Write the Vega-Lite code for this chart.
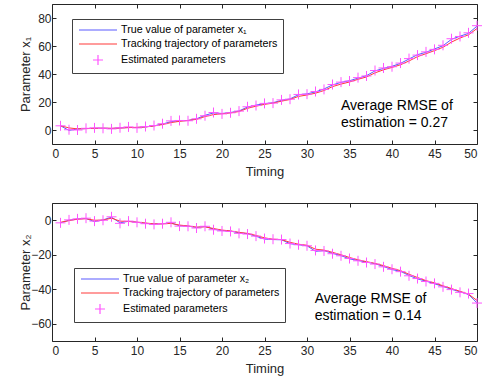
{
  "$schema": "https://vega.github.io/schema/vega-lite/v6.json",
  "padding": {"left": 18, "top": 3, "right": 5, "bottom": 5},
  "spacing": 23,
  "config": {
    "font": "Liberation Sans",
    "view": {"stroke": "#262626", "strokeWidth": 1},
    "axis": {
      "grid": false,
      "labelFont": "Liberation Sans",
      "titleFont": "Liberation Sans",
      "labelFontSize": 12,
      "titleFontSize": 13,
      "titleFontWeight": "normal",
      "labelColor": "#262626",
      "titleColor": "#262626",
      "domain": false,
      "tickColor": "#262626",
      "tickSize": 4,
      "offset": -4,
      "labelPadding": 4
    },
    "axisX": {"labelPadding": 4, "titlePadding": 6},
    "axisY": {"labelPadding": 1}
  },
  "datasets": {
    "top": [
      {"t":1,"true":3,"track":3,"est":3},
      {"t":2,"true":-0.3,"track":1.5,"est":0.2},
      {"t":3,"true":0.7,"track":0.8,"est":0},
      {"t":4,"true":1,"track":1,"est":1.2},
      {"t":5,"true":1.2,"track":1.2,"est":1.5},
      {"t":6,"true":1.3,"track":1.3,"est":1.2},
      {"t":7,"true":1.1,"track":1.2,"est":0.8},
      {"t":8,"true":1.5,"track":1.4,"est":1.6},
      {"t":9,"true":1.8,"track":1.7,"est":2.2},
      {"t":10,"true":1.8,"track":1.9,"est":1.5},
      {"t":11,"true":2.2,"track":2.2,"est":2.5},
      {"t":12,"true":3,"track":2.9,"est":3.2},
      {"t":13,"true":4.2,"track":3.9,"est":4.5},
      {"t":14,"true":6,"track":5.3,"est":6.5},
      {"t":15,"true":6.6,"track":6.2,"est":6.8},
      {"t":16,"true":6.8,"track":6.8,"est":6.6},
      {"t":17,"true":8,"track":7.6,"est":8},
      {"t":18,"true":10.5,"track":9.6,"est":10.2},
      {"t":19,"true":12.2,"track":11,"est":12.5},
      {"t":20,"true":11.8,"track":11.6,"est":11.5},
      {"t":21,"true":12.5,"track":12.2,"est":12.3},
      {"t":22,"true":13.6,"track":13.2,"est":13.5},
      {"t":23,"true":16.4,"track":15.5,"est":16.6},
      {"t":24,"true":17.8,"track":17,"est":17.5},
      {"t":25,"true":18.8,"track":18.3,"est":19},
      {"t":26,"true":19.5,"track":19.2,"est":19.2},
      {"t":27,"true":21.2,"track":20.6,"est":21.5},
      {"t":28,"true":22.2,"track":21.8,"est":22},
      {"t":29,"true":25.2,"track":24,"est":25.4},
      {"t":30,"true":25.8,"track":25,"est":25.6},
      {"t":31,"true":27.2,"track":26.3,"est":27.5},
      {"t":32,"true":29.3,"track":28.2,"est":29},
      {"t":33,"true":32.2,"track":31,"est":32.5},
      {"t":34,"true":34,"track":32.8,"est":34.2},
      {"t":35,"true":35.2,"track":34.3,"est":35},
      {"t":36,"true":37,"track":36.2,"est":37.4},
      {"t":37,"true":38.8,"track":37.9,"est":38.6},
      {"t":38,"true":42.2,"track":40.8,"est":42.5},
      {"t":39,"true":44,"track":43,"est":44.3},
      {"t":40,"true":45.5,"track":44.7,"est":45.2},
      {"t":41,"true":47.6,"track":46.6,"est":47.8},
      {"t":42,"true":50.7,"track":49.3,"est":51},
      {"t":43,"true":53.8,"track":52.4,"est":53.5},
      {"t":44,"true":55.5,"track":54.5,"est":55.8},
      {"t":45,"true":57.9,"track":56.7,"est":57.6},
      {"t":46,"true":60.2,"track":59.1,"est":60.5},
      {"t":47,"true":64.8,"track":62.8,"est":65.2},
      {"t":48,"true":67,"track":65.7,"est":66.8},
      {"t":49,"true":69,"track":68,"est":69.4},
      {"t":50,"true":74.2,"track":72.5,"est":74.5}
    ],
    "bottom": [
      {"t":1,"true":-1.5,"track":-1.2,"est":-1.5},
      {"t":2,"true":0,"track":-0.2,"est":0.2},
      {"t":3,"true":0.8,"track":0.6,"est":0.8},
      {"t":4,"true":1,"track":0.9,"est":1.2},
      {"t":5,"true":-0.8,"track":0,"est":-0.5},
      {"t":6,"true":0.2,"track":0.1,"est":0},
      {"t":7,"true":1.8,"track":1.2,"est":2},
      {"t":8,"true":-1.5,"track":-0.5,"est":-1.8},
      {"t":9,"true":-0.6,"track":-0.7,"est":-0.5},
      {"t":10,"true":-1.2,"track":-1.1,"est":-1.2},
      {"t":11,"true":-1.8,"track":-1.6,"est":-2},
      {"t":12,"true":-2.2,"track":-2.1,"est":-2.4},
      {"t":13,"true":-2,"track":-2.1,"est":-2},
      {"t":14,"true":-1.5,"track":-1.8,"est":-1.2},
      {"t":15,"true":-3.2,"track":-2.8,"est":-3.4},
      {"t":16,"true":-3.4,"track":-3.3,"est":-3.5},
      {"t":17,"true":-4.2,"track":-4,"est":-4.5},
      {"t":18,"true":-3.6,"track":-3.8,"est":-3.5},
      {"t":19,"true":-5.2,"track":-4.8,"est":-5.5},
      {"t":20,"true":-6,"track":-5.7,"est":-6.2},
      {"t":21,"true":-6.3,"track":-6.2,"est":-6.5},
      {"t":22,"true":-7.3,"track":-7,"est":-7.6},
      {"t":23,"true":-7.8,"track":-7.6,"est":-8},
      {"t":24,"true":-9.3,"track":-8.8,"est":-9.2},
      {"t":25,"true":-10.9,"track":-10.2,"est":-10.6},
      {"t":26,"true":-11.2,"track":-11,"est":-11},
      {"t":27,"true":-11.3,"track":-11.2,"est":-11.2},
      {"t":28,"true":-13.6,"track":-12.8,"est":-13.5},
      {"t":29,"true":-14.2,"track":-13.9,"est":-14.2},
      {"t":30,"true":-14.8,"track":-14.5,"est":-14.8},
      {"t":31,"true":-18,"track":-16.8,"est":-17.5},
      {"t":32,"true":-17.6,"track":-17.3,"est":-17.8},
      {"t":33,"true":-19.2,"track":-18.6,"est":-19.4},
      {"t":34,"true":-20.5,"track":-20,"est":-20.6},
      {"t":35,"true":-22.4,"track":-21.6,"est":-22.2},
      {"t":36,"true":-23.3,"track":-22.9,"est":-23.5},
      {"t":37,"true":-24.3,"track":-24,"est":-24.5},
      {"t":38,"true":-25.2,"track":-25,"est":-25.4},
      {"t":39,"true":-26.8,"track":-26.3,"est":-27},
      {"t":40,"true":-28.6,"track":-27.9,"est":-28.4},
      {"t":41,"true":-29.6,"track":-29.2,"est":-29.8},
      {"t":42,"true":-32,"track":-31.3,"est":-32.2},
      {"t":43,"true":-34,"track":-33.2,"est":-33.8},
      {"t":44,"true":-35.3,"track":-35,"est":-35.5},
      {"t":45,"true":-36.8,"track":-36.3,"est":-36.6},
      {"t":46,"true":-38.4,"track":-38,"est":-38.6},
      {"t":47,"true":-40,"track":-39.6,"est":-40.2},
      {"t":48,"true":-41.5,"track":-41.2,"est":-41.8},
      {"t":49,"true":-43,"track":-42.8,"est":-42.5},
      {"t":50,"true":-47.9,"track":-46.5,"est":-48}
    ]
  },
  "vconcat": [
    {
      "width": 425,
      "height": 140,
      "resolve": {"axis": {"x": "independent", "y": "independent"}},
      "layer": [
        {
          "data": {"name": "top"},
          "transform": [{"fold": ["true", "track"], "as": ["k", "v"]}],
          "mark": {"type": "line", "strokeWidth": 1},
          "encoding": {
            "x": {"field": "t", "type": "quantitative", "scale": {"domain": [0, 50], "nice": false},
                  "axis": {"orient": "bottom", "values": [0,5,10,15,20,25,30,35,40,45,50], "title": "Timing"}},
            "y": {"field": "v", "type": "quantitative", "scale": {"domain": [-10, 90], "nice": false},
                  "axis": {"orient": "left", "values": [0,20,40,60,80], "title": "Parameter x₁", "minExtent": 22, "maxExtent": 22, "titlePadding": 2}},
            "color": {"field": "k", "type": "nominal",
              "scale": {"domain": ["true", "track", "est"], "range": ["#5a5aff", "#ff3a3a", "#ff55ff"]},
              "legend": {
                "orient": "none", "legendX": 20, "legendY": 15, "title": null,
                "labelExpr": "datum.value == 'true' ? 'True value of parameter x₁' : datum.value == 'track' ? 'Tracking trajectory of parameters' : 'Estimated parameters'",
                "labelFont": "Liberation Sans", "labelFontSize": 10.7, "labelColor": "#000000",
                "symbolSize": 100, "symbolOffset": 15, "labelOffset": 17, "rowPadding": 3, "padding": 5,
                "strokeColor": "#404040", "fillColor": "#ffffff", "symbolStrokeWidth": 1,
                "encode": {"symbols": {"update": {
                  "shape": {"signal": "datum.value == 'est' ? 'M-1,0L1,0M0,-1L0,1' : 'M-3.8,0L3.8,0'"},
                  "stroke": {"signal": "datum.value == 'true' ? '#5a5aff' : datum.value == 'track' ? '#ff3a3a' : '#ff55ff'"},
                  "fill": {"value": "transparent"},
                  "strokeWidth": {"value": 1.2},
                  "strokeOpacity": {"value": 1},
                  "opacity": {"value": 1}
                }}}
              }
            }
          }
        },
        {
          "data": {"name": "top"},
          "transform": [{"fold": ["est"], "as": ["k", "v"]}],
          "mark": {"type": "point", "shape": "M-1,0L1,0M0,-1L0,1", "filled": false, "size": 100, "strokeWidth": 1, "opacity": 1},
          "encoding": {
            "x": {"field": "t", "type": "quantitative", "axis": {"orient": "top", "values": [0,5,10,15,20,25,30,35,40,45,50], "labels": false, "title": null, "ticks": true}},
            "y": {"field": "v", "type": "quantitative", "axis": {"orient": "right", "values": [0,20,40,60,80], "labels": false, "title": null, "ticks": true}},
            "color": {"field": "k", "type": "nominal"}
          }
        },
        {
          "data": {"values": [{"note": "Average RMSE of\nestimation = 0.27"}]},
          "mark": {"type": "text", "align": "left", "baseline": "top", "fontSize": 14, "lineHeight": 16.5, "lineBreak": "\n", "color": "#000000"},
          "encoding": {
            "x": {"datum": 34, "type": "quantitative", "axis": null},
            "y": {"datum": 22, "type": "quantitative", "axis": null},
            "text": {"field": "note"}
          }
        }
      ]
    },
    {
      "width": 425,
      "height": 138,
      "resolve": {"axis": {"x": "independent", "y": "independent"}},
      "layer": [
        {
          "data": {"name": "bottom"},
          "transform": [{"fold": ["true", "track"], "as": ["k", "v"]}],
          "mark": {"type": "line", "strokeWidth": 1},
          "encoding": {
            "x": {"field": "t", "type": "quantitative", "scale": {"domain": [0, 50], "nice": false},
                  "axis": {"orient": "bottom", "values": [0,5,10,15,20,25,30,35,40,45,50], "title": "Timing"}},
            "y": {"field": "v", "type": "quantitative", "scale": {"domain": [-70, 10], "nice": false},
                  "axis": {"orient": "left", "values": [0,-20,-40,-60], "title": "Parameter x₂", "minExtent": 22, "maxExtent": 22, "titlePadding": 2}},
            "color": {"field": "k", "type": "nominal",
              "scale": {"domain": ["true", "track", "est"], "range": ["#5a5aff", "#ff3a3a", "#ff55ff"]},
              "legend": {
                "orient": "none", "legendX": 22, "legendY": 65, "title": null,
                "labelExpr": "datum.value == 'true' ? 'True value of parameter x₂' : datum.value == 'track' ? 'Tracking trajectory of parameters' : 'Estimated parameters'",
                "labelFont": "Liberation Sans", "labelFontSize": 10.7, "labelColor": "#000000",
                "symbolSize": 100, "symbolOffset": 15, "labelOffset": 17, "rowPadding": 3, "padding": 5,
                "strokeColor": "#404040", "fillColor": "#ffffff", "symbolStrokeWidth": 1,
                "encode": {"symbols": {"update": {
                  "shape": {"signal": "datum.value == 'est' ? 'M-1,0L1,0M0,-1L0,1' : 'M-3.8,0L3.8,0'"},
                  "stroke": {"signal": "datum.value == 'true' ? '#5a5aff' : datum.value == 'track' ? '#ff3a3a' : '#ff55ff'"},
                  "fill": {"value": "transparent"},
                  "strokeWidth": {"value": 1.2},
                  "strokeOpacity": {"value": 1},
                  "opacity": {"value": 1}
                }}}
              }
            }
          }
        },
        {
          "data": {"name": "bottom"},
          "transform": [{"fold": ["est"], "as": ["k", "v"]}],
          "mark": {"type": "point", "shape": "M-1,0L1,0M0,-1L0,1", "filled": false, "size": 100, "strokeWidth": 1, "opacity": 1},
          "encoding": {
            "x": {"field": "t", "type": "quantitative", "axis": {"orient": "top", "values": [0,5,10,15,20,25,30,35,40,45,50], "labels": false, "title": null, "ticks": true}},
            "y": {"field": "v", "type": "quantitative", "axis": {"orient": "right", "values": [0,-20,-40,-60], "labels": false, "title": null, "ticks": true}},
            "color": {"field": "k", "type": "nominal"}
          }
        },
        {
          "data": {"values": [{"note": "Average RMSE of\nestimation = 0.14"}]},
          "mark": {"type": "text", "align": "left", "baseline": "top", "fontSize": 14, "lineHeight": 16.5, "lineBreak": "\n", "color": "#000000"},
          "encoding": {
            "x": {"datum": 30.9, "type": "quantitative", "axis": null},
            "y": {"datum": -41.7, "type": "quantitative", "axis": null},
            "text": {"field": "note"}
          }
        }
      ]
    }
  ],
  "resolve": {"scale": {"color": "independent"}}
}
